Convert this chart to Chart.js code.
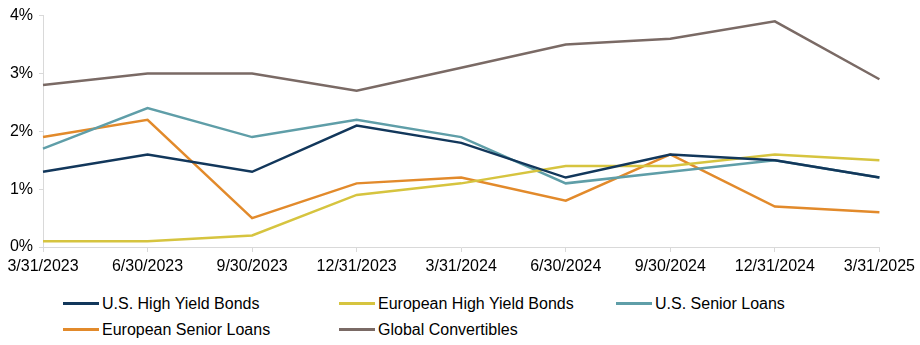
<!DOCTYPE html>
<html>
<head>
<meta charset="utf-8">
<script src="https://cdn.jsdelivr.net/npm/chart.js@4"></script>
<style>
  body { margin: 0; background: #fff; font-family: "Liberation Sans", Arial, sans-serif; }
  #wrap { position: relative; width: 920px; height: 345px; }
  #chartBox { position: absolute; left: 0; top: 0; width: 920px; height: 282px; }
  .leg { position: absolute; font-size: 16px; color: #000; height: 20px; line-height: 20px; white-space: nowrap; }
  .leg span.ln { display: inline-block; width: 36px; height: 3px; vertical-align: middle; margin-right: 3px; position: relative; top: -1px; }
</style>
</head>
<body>
<div id="wrap">
  <div id="chartBox"><canvas id="Chart-1"></canvas></div>
  <div id="legend"></div>
</div>
<script>
const dates = ["3/31/2023", "6/30/2023", "9/30/2023", "12/31/2023", "3/31/2024", "6/30/2024", "9/30/2024", "12/31/2024", "3/31/2025"];
const usHighYield = [1.3, 1.6, 1.3, 2.1, 1.8, 1.2, 1.6, 1.5, 1.2];
const euHighYield = [0.1, 0.1, 0.2, 0.9, 1.1, 1.4, 1.4, 1.6, 1.5];
const usSeniorLoans = [1.7, 2.4, 1.9, 2.2, 1.9, 1.1, 1.3, 1.5, 1.2];
const euSeniorLoans = [1.9, 2.2, 0.5, 1.1, 1.2, 0.8, 1.6, 0.7, 0.6];
const globalConvertibles = [2.8, 3.0, 3.0, 2.7, 3.1, 3.5, 3.6, 3.9, 2.9];
const yTicks = [0, 1, 2, 3, 4];

function line(label, data, color) {
    return {
        label: label,
        data: data,
        borderColor: color,
        backgroundColor: color,
        borderWidth: 2.5,
        pointRadius: 0,
        tension: 0,
        fill: false
    };
}

const chart = new Chart(document.getElementById("Chart-1"), {
    type: "line",
    data: {
        labels: dates,
        datasets: [
            line("U.S. High Yield Bonds", usHighYield, "#12375b"),
            line("European High Yield Bonds", euHighYield, "#d6c43f"),
            line("U.S. Senior Loans", usSeniorLoans, "#5f9ea8"),
            line("European Senior Loans", euSeniorLoans, "#e28a2b"),
            line("Global Convertibles", globalConvertibles, "#7a6a65")
        ]
    },
    options: {
        responsive: true,
        maintainAspectRatio: false,
        animation: false,
        layout: {
            padding: { left: 0, right: 40, top: 4, bottom: 0 }
        },
        plugins: {
            legend: { display: false },
            tooltip: { enabled: false }
        },
        scales: {
            x: {
                offset: false,
                grid: {
                    display: true,
                    drawOnChartArea: false,
                    color: "#d9d9d9",
                    tickLength: 5
                },
                border: { color: "#d9d9d9", width: 1 },
                ticks: {
                    color: "#000",
                    maxRotation: 0,
                    autoSkip: false,
                    padding: 5,
                    font: { family: "Liberation Sans", size: 16 }
                },
                afterFit: function (scale) { scale.height = 35; }
            },
            y: {
                min: 0,
                max: 4,
                afterBuildTicks: function (scale) {
                    scale.ticks = yTicks.map(v => ({ value: v }));
                },
                grid: {
                    display: true,
                    drawOnChartArea: false,
                    color: "#d9d9d9",
                    tickLength: 4
                },
                border: { color: "#d9d9d9", width: 1 },
                ticks: {
                    color: "#000",
                    padding: 6,
                    font: { family: "Liberation Sans", size: 16 },
                    callback: function (v) { return v + "%"; }
                },
                afterFit: function (scale) { scale.width = 43; }
            }
        }
    }
});

// legend laid out in a grid like the original
const legendPos = [
    { left: 63, top: 294 },
    { left: 339, top: 294 },
    { left: 616, top: 294 },
    { left: 63, top: 320 },
    { left: 339, top: 320 }
];
const legendBox = document.getElementById("legend");
chart.data.datasets.forEach(function (ds, i) {
    const item = document.createElement("div");
    item.className = "leg";
    item.style.left = legendPos[i].left + "px";
    item.style.top = legendPos[i].top + "px";
    item.innerHTML = '<span class="ln" style="background:' + ds.borderColor + '"></span>' + ds.label;
    legendBox.appendChild(item);
});
</script>
</body>
</html>
